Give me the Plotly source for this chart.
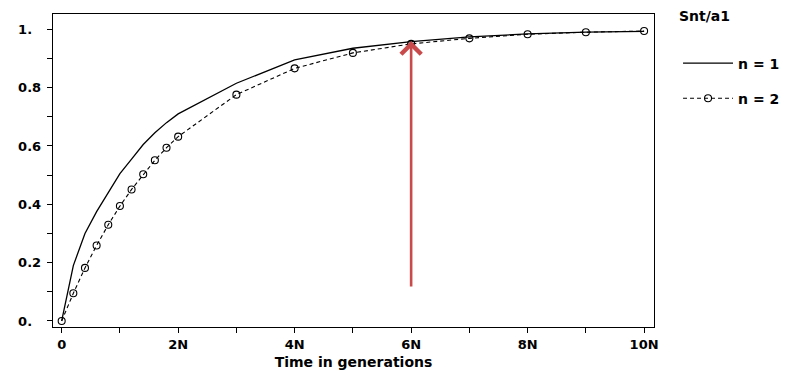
import plotly.graph_objects as go

# ---- data ----
t_values = [0, 0.2, 0.4, 0.6, 0.8, 1.0, 1.2, 1.4, 1.6, 1.8, 2.0, 3, 4, 5, 6, 7, 8, 9, 10]
n15_values = [0, 0.19, 0.30, 0.375, 0.44, 0.505, 0.555, 0.605, 0.645, 0.68, 0.71,
              0.815, 0.895, 0.935, 0.958, 0.974, 0.984, 0.99, 0.993]
n2_values = [0, 0.095, 0.182, 0.259, 0.330, 0.394, 0.451, 0.503, 0.551, 0.594, 0.632,
             0.776, 0.866, 0.919, 0.950, 0.969, 0.983, 0.990, 0.994]

series_names = ["n = 15", "n = 2"]
legend_title = "Snt/a1"
x_title = "Time in generations"

x_tickvals = list(range(0, 11))
x_ticktext = ["0", "", "2N", "", "4N", "", "6N", "", "8N", "", "10N"]
y_tickvals = [0, 0.1, 0.2, 0.3, 0.4, 0.5, 0.6, 0.7, 0.8, 0.9, 1.0]
y_ticktext = ["0.\u2007\u2005", "", "0.2\u2005", "", "0.4\u2005", "", "0.6\u2005", "",
              "0.8\u2005", "", "1.\u2007\u2005"]

arrow_x = 6
arrow_y_start = 0.113
arrow_y_end = 0.96

FONT = "DejaVu Sans"

fig = go.Figure()
fig.add_trace(go.Scatter(
    x=t_values, y=n15_values, name=series_names[0], mode="lines",
    line=dict(color="black", width=1.3), legendgroup="a",
))
fig.add_trace(go.Scatter(
    x=t_values, y=n2_values, name=series_names[1], mode="lines+markers",
    line=dict(color="black", width=1.1, dash="4px,3px"),
    marker=dict(symbol="circle-open", size=7, color="black", line=dict(width=1.1)),
    legendgroup="b",
))

fig.add_annotation(
    x=arrow_x, y=arrow_y_end, ax=arrow_x, ay=arrow_y_start,
    xref="x", yref="y", axref="x", ayref="y",
    showarrow=True, arrowhead=4, arrowsize=1.5, arrowwidth=2.6,
    arrowcolor="#c94a4a", text="", standoff=0,
)

# legend title as free text
fig.add_annotation(
    x=1.038, y=0.993, xref="paper", yref="paper", xanchor="left", yanchor="middle",
    text="<b>%s</b>" % legend_title, showarrow=False,
    font=dict(family=FONT, size=14, color="black"),
)

axis_common = dict(
    showline=True, linecolor="black", linewidth=1, mirror=True,
    ticks="outside", ticklen=5, tickcolor="black", tickwidth=1,
    showgrid=False, zeroline=False, automargin=False,
    tickfont=dict(family=FONT, size=13, color="black", weight="bold"),
)

fig.update_layout(
    width=780, height=363,
    margin=dict(l=45, r=134, t=6, b=44, autoexpand=False),
    paper_bgcolor="white", plot_bgcolor="white",
    font=dict(family=FONT, color="black"),
    xaxis=dict(
        range=[-0.149, 10.17], tickmode="array", tickvals=x_tickvals, ticktext=x_ticktext,
        title=dict(text=x_title, font=dict(family=FONT, size=14, color="black", weight="bold"),
                   standoff=6),
        **axis_common,
    ),
    yaxis=dict(
        range=[-0.0206, 1.0524], tickmode="array", tickvals=y_tickvals, ticktext=y_ticktext,
        **axis_common,
    ),
    showlegend=True,
    legend=dict(
        x=1.04, xanchor="left", y=0.893, yanchor="top",
        font=dict(family=FONT, size=14, color="black", weight="bold"),
        traceorder="grouped", tracegroupgap=14, itemwidth=50,
        bgcolor="rgba(0,0,0,0)", borderwidth=0,
    ),
)

fig.write_html("out.html")
